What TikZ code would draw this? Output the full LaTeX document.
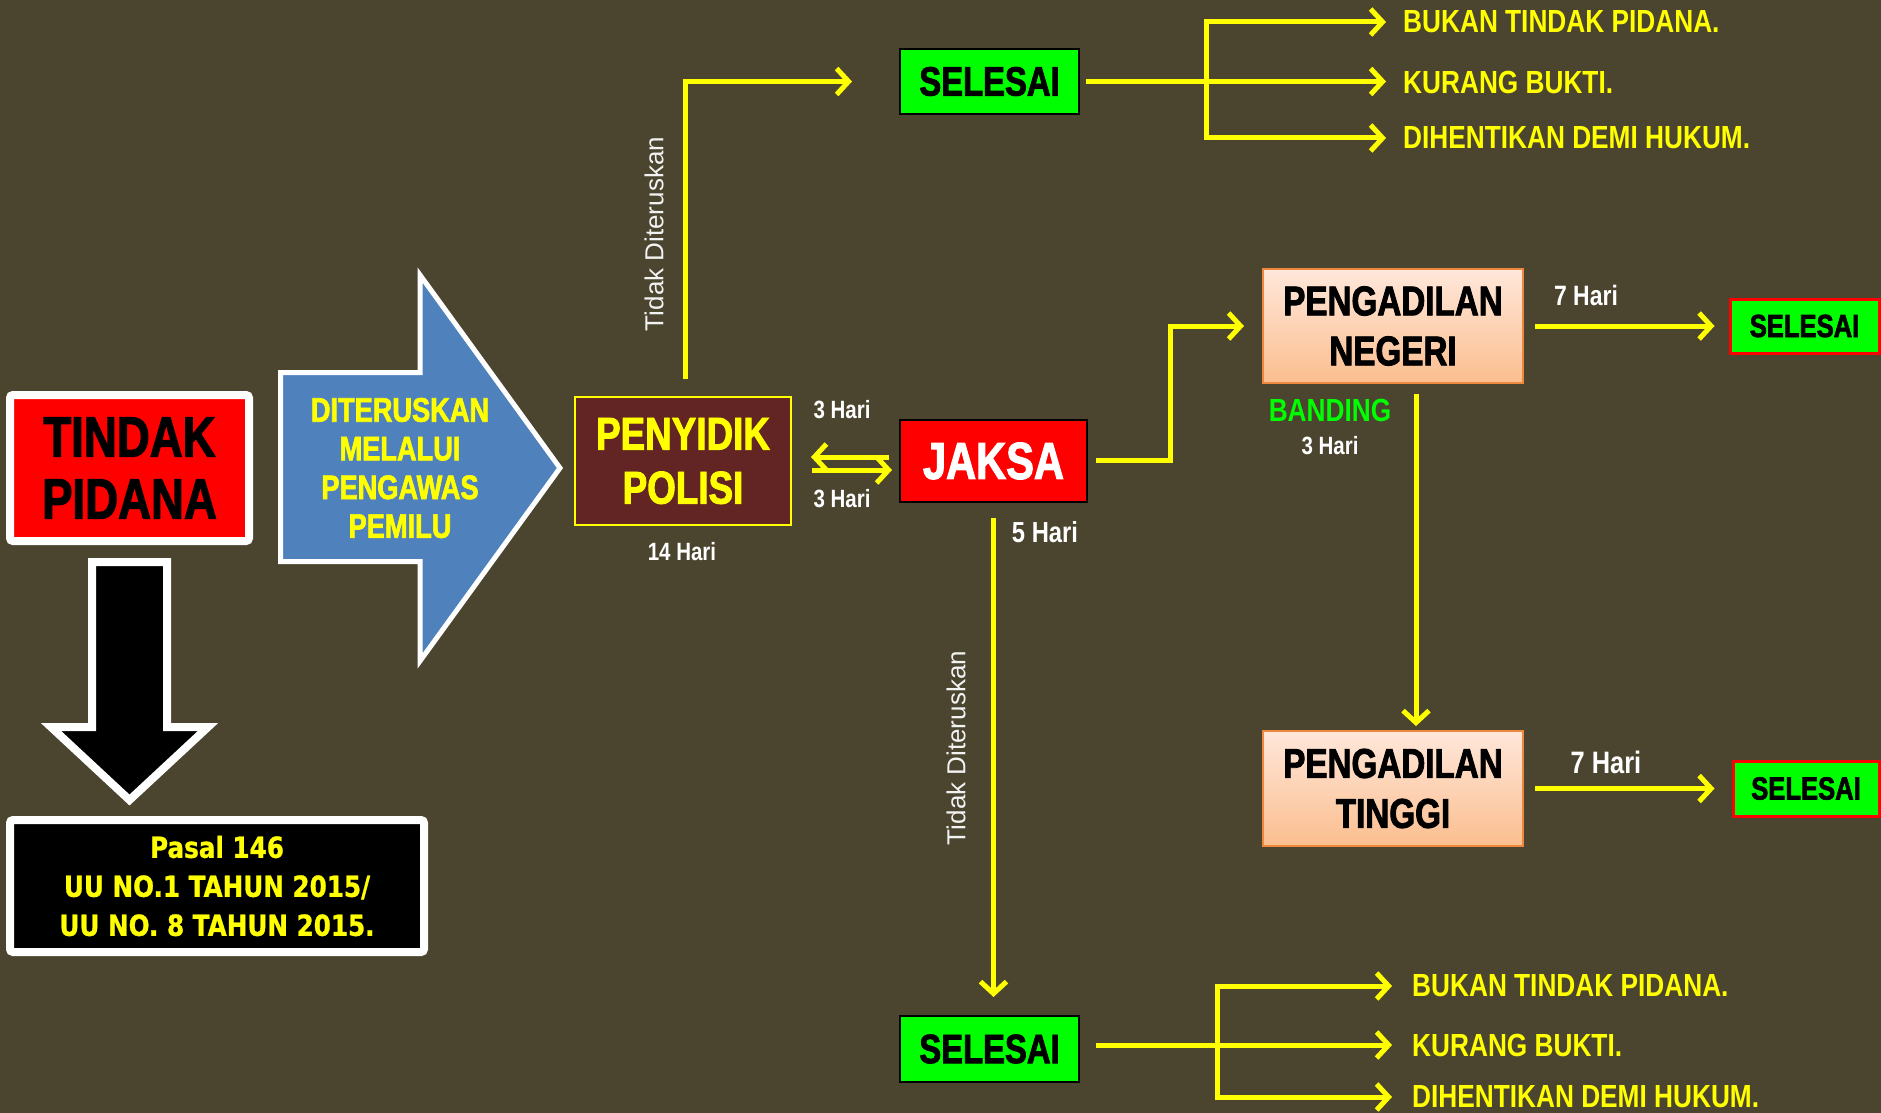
\documentclass[tikz,border=0pt]{standalone}
\usepackage{fontspec}
\usetikzlibrary{arrows.meta,calc}
\newfontfamily\heavyfont[FakeStretch=0.8,FakeBold=2]{Liberation Sans Bold}
\newfontfamily\narrowfont[FakeStretch=0.82]{Liberation Sans Bold}
\newfontfamily\pasalfont[FakeStretch=0.85,FakeBold=1]{DejaVu Sans Bold}
\newfontfamily\plainfont{Liberation Sans}
\definecolor{bgc}{RGB}{75,69,47}
\definecolor{yy}{RGB}{255,255,0}
\definecolor{rr}{RGB}{255,0,0}
\definecolor{gg}{RGB}{0,255,0}
\definecolor{bluec}{RGB}{79,129,189}
\definecolor{maroon}{RGB}{99,37,35}
\definecolor{pk1}{RGB}{255,231,218}
\definecolor{pk2}{RGB}{251,190,143}
\definecolor{pkb}{RGB}{238,136,62}
\definecolor{lgray}{RGB}{242,242,242}
\begin{document}
\begin{tikzpicture}[x=1pt,y=-1pt,
  ya/.style={draw=yy,line width=5pt,-{Straight Barb[length=12pt,width=26pt]}},
  yb/.style={draw=yy,line width=5pt,{Straight Barb[length=12pt,width=26pt]}-{Straight Barb[length=12pt,width=26pt]}},
  box/.style={inner sep=0pt,align=center},
  selbox/.style={box,fill=gg,draw=black,line width=2pt,text=black},
  selred/.style={box,fill=gg,draw=rr,line width=3pt,text=black},
  court/.style={box,top color=pk1,bottom color=pk2,draw=pkb,line width=2pt,text=black,
     minimum width=260pt,font={\heavyfont\fontsize{41.5}{50}\selectfont}},
  lst/.style={inner sep=0pt,anchor=west,text=yy,font={\narrowfont\fontsize{32}{38}\selectfont}},
  hari/.style={inner sep=0pt,text=white,font={\narrowfont\fontsize{25}{30}\selectfont}},
  tdk/.style={inner sep=0pt,rotate=90,text=lgray,font={\plainfont\fontsize{26}{30}\selectfont}}]
\useasboundingbox (0,0) rectangle (1881,1113);
\fill[bgc] (0,0) rectangle (1881,1113);

% big shapes
\filldraw[fill=bluec,draw=white,line width=5pt,line join=miter]
  (280.5,372.5) -- (420,372.5) -- (420,275) -- (560,468) -- (420,661) -- (420,561.5) -- (280.5,561.5) -- cycle;
\node[box,text=yy,font={\heavyfont\fontsize{34}{38.7}\selectfont}] (ditlabel) at (400,468)
  {DITERUSKAN\\MELALUI\\PENGAWAS\\PEMILU};
\filldraw[fill=black,draw=white,line width=8pt,line join=miter]
  (92,562) -- (167,562) -- (167,727) -- (208,727) -- (129.5,800) -- (51,727) -- (92,727) -- cycle;

% nodes
\node[box,fill=rr,draw=white,line width=8pt,rounded corners=3pt,minimum width=239pt,minimum height=146pt,
  font={\heavyfont\fontsize{57}{62}\selectfont}] (tindak) at (129.5,468) {TINDAK\\PIDANA};
\node[box,fill=black,draw=white,line width=8pt,rounded corners=3pt,minimum width=414pt,minimum height=132pt,
  text=yy,font={\pasalfont\fontsize{29}{39}\selectfont}] (pasal) at (217,886)
  {Pasal 146\\UU NO.1 TAHUN 2015/\\UU NO. 8 TAHUN 2015.};
\node[box,fill=maroon,draw=yy,line width=2pt,minimum width=216pt,minimum height=128pt,text=yy,
  font={\heavyfont\fontsize{46}{54}\selectfont}] (polisi) at (683,461) {PENYIDIK\\POLISI};
\node[box,fill=rr,draw=black,line width=2pt,minimum width=187pt,minimum height=82pt,text=white,
  font={\heavyfont\fontsize{52}{60}\selectfont}] (jaksa) at (993.5,461) {JAKSA};
\node[selbox,minimum width=179pt,minimum height=65pt,font={\heavyfont\fontsize{41}{48}\selectfont}]
  (sel1) at (989.5,81.5) {SELESAI};
\node[selbox,minimum width=179pt,minimum height=66pt,font={\heavyfont\fontsize{41}{48}\selectfont}]
  (sel4) at (989.5,1049) {SELESAI};
\node[court,minimum height=114pt] (negeri) at (1393,326) {PENGADILAN\\NEGERI};
\node[court,minimum height=115pt] (tinggi) at (1393,788.5) {PENGADILAN\\TINGGI};
\node[selred,minimum width=149pt,minimum height=54pt,font={\heavyfont\fontsize{32}{38}\selectfont}]
  (sel2) at (1804.5,326) {SELESAI};
\node[selred,minimum width=146pt,minimum height=55pt,font={\heavyfont\fontsize{32}{38}\selectfont}]
  (sel3) at (1806,788.5) {SELESAI};

% texts
\node[lst] (t1a) at (1403,22) {BUKAN TINDAK PIDANA.};
\node[lst] (t1b) at (1403,82) {KURANG BUKTI.};
\node[lst] (t1c) at (1403,138) {DIHENTIKAN DEMI HUKUM.};
\node[lst] (t4a) at (1412,986) {BUKAN TINDAK PIDANA.};
\node[lst] (t4b) at (1412,1045) {KURANG BUKTI.};
\node[lst] (t4c) at (1412,1097) {DIHENTIKAN DEMI HUKUM.};
\node[hari] (h14) at (682,552) {14 Hari};
\node[hari] (h3a) at (842,410) {3 Hari};
\node[hari] (h3b) at (842,499) {3 Hari};
\node[hari,font={\narrowfont\fontsize{29}{34}\selectfont}] (h5) at (1045,532) {5 Hari};
\node[hari,font={\narrowfont\fontsize{28}{34}\selectfont}] (h7a) at (1586,295) {7 Hari};
\node[hari,font={\narrowfont\fontsize{31}{36}\selectfont}] (h7b) at (1606,762) {7 Hari};
\node[inner sep=0pt,text=gg,font={\narrowfont\fontsize{32}{38}\selectfont}] (banding) at (1330,410) {BANDING};
\node[hari] (h3c) at (1330,446) {3 Hari};
\node[tdk] (tdk1) at (654,234) {Tidak Diteruskan};
\node[tdk] (tdk2) at (956,748) {Tidak Diteruskan};

% connectors
\draw[ya] ($(polisi.north)+(2,-17)$) |- ($(sel1.west)+(-47,0)$);
\draw[ya] ($(jaksa.west)+(-10,-4)$) -- ($(polisi.east)+(19,-4)$);
\draw[ya] ($(polisi.east)+(20,9)$) -- ($(jaksa.west)+(-7,9)$);
\draw[ya] ($(jaksa.east)+(8,-1)$) -- ++(74,0) |- ($(negeri.west)+(-18,0)$);
\coordinate (jdn) at (jaksa.south |- sel4.north);
\draw[ya] ($(jaksa.south)+(0,15)$) -- ($(jdn)+(0,-18)$);
\draw[ya] ($(negeri.south)+(23,10)$) -- ($(tinggi.north)+(23,-4)$);
\draw[ya] ($(negeri.east)+(11,0)$) -- ($(sel2.west)+(-14,0)$);
\draw[ya] ($(tinggi.east)+(11,0)$) -- ($(sel3.west)+(-17,0)$);

% top branch
\coordinate (br1) at (1206,82);
\draw[ya] ($(sel1.east)+(6,0)$) -- ($(sel1.east -| t1b.west)+(-17,0)$);
\draw[yb] ($(t1a.west)+(-17,0)$) -- (br1 |- t1a.west) -- (br1 |- t1c.west) -- ($(t1c.west)+(-17,0)$);
% bottom branch
\coordinate (br4) at (1217,1045);
\coordinate (s4o) at ($(sel4.east |- t4b.west)+(16,0)$);
\draw[ya] (s4o) -- ($(t4b.west)+(-20,0)$);
\draw[yb] ($(t4a.west)+(-20,0)$) -- (br4 |- t4a.west) -- (br4 |- t4c.west) -- ($(t4c.west)+(-20,0)$);
\end{tikzpicture}
\end{document}
